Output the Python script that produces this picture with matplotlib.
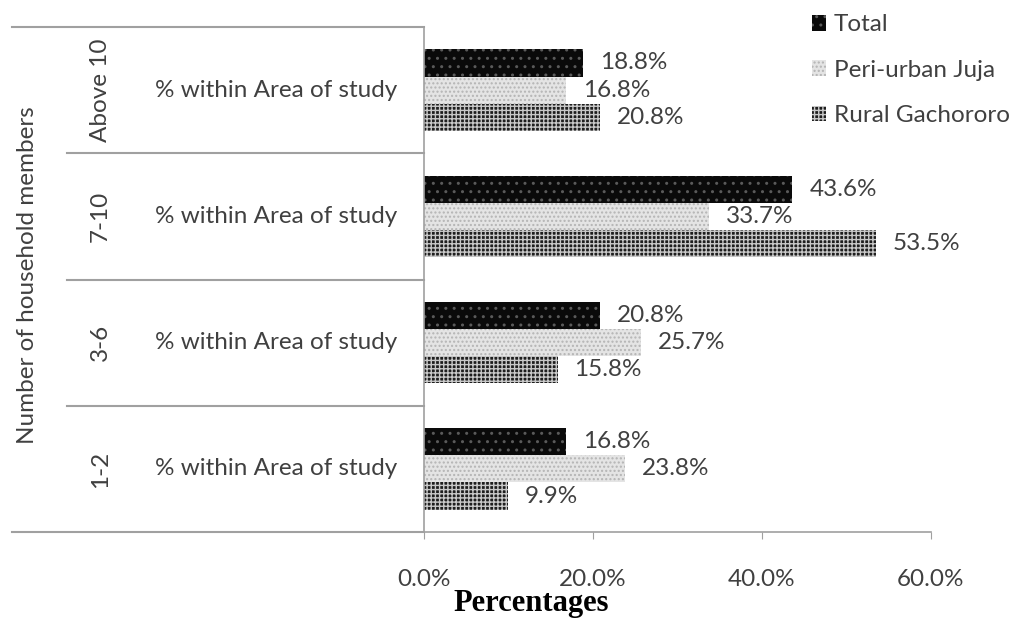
import matplotlib.pyplot as plt
import numpy as np

# household size groups, bottom to top
groups = ["1-2", "3-6", "7-10", "Above 10"]
total = [16.8, 20.8, 43.6, 18.8]
peri_urban = [23.8, 25.7, 33.7, 16.8]
rural = [9.9, 15.8, 53.5, 20.8]
series_names = ["Total", "Peri-urban Juja", "Rural Gachororo"]
xticks = [0, 20, 40, 60]

plt.rcParams['font.family'] = ['Lato', 'DejaVu Sans']
txt = '#404040'
grey = '#a0a0a0'
fs = 17.5

fig = plt.figure(figsize=(10.19, 6.23), dpi=100)
ax = fig.add_axes([424/1019, 1-532/623, 507/1019, 505/623])

y = np.arange(len(groups))
h = 0.215
styles = [
    dict(facecolor='#0a0a0a', edgecolor='#5a5a5a', hatch='..'),
    dict(facecolor='#e4e4e4', edgecolor='#b4b4b4', hatch='....'),
    dict(facecolor='#1e1e1e', edgecolor='#c8c8c8', hatch='++++'),
]
for k, (vals, st) in enumerate(zip([total, peri_urban, rural], styles)):
    ax.barh(y + h*(1-k), vals, height=h, linewidth=0, label=series_names[k], **st)
    for yi, v in zip(y + h*(1-k), vals):
        ax.text(v + 2.0, yi, f"{v:.1f}%", va='center', ha='left', fontsize=fs, color=txt)

ax.set_xlim(0, 60)
ax.set_ylim(-0.5, 3.5)
ax.set_xticks(xticks)
ax.set_xticklabels([f"{t:.1f}%" for t in xticks], fontsize=fs, color=txt)
ax.tick_params(axis='x', direction='out', length=5, color=grey, pad=22)
ax.set_yticks([])
for s in ['top', 'right']:
    ax.spines[s].set_visible(False)
for s in ['left', 'bottom']:
    ax.spines[s].set_color(grey)
    ax.spines[s].set_linewidth(1.2)

# category table to the left of the bars
tr = ax.get_yaxis_transform()
ax.plot([-0.813, 0], [3.5, 3.5], transform=tr, color=grey, lw=1.5, clip_on=False)
ax.plot([-0.813, 0], [-0.5, -0.5], transform=tr, color=grey, lw=1.5, clip_on=False)
for yb in [0.5, 1.5, 2.5]:
    ax.plot([-0.704, 0], [yb, yb], transform=tr, color=grey, lw=1.5, clip_on=False)
for yi, g in zip(y, groups):
    ax.text(-0.638, yi, g, transform=tr, rotation=90, ha='center', va='center',
            fontsize=fs, color=txt)
    ax.text(-0.291, yi, "% within Area of study", transform=tr, ha='center',
            va='center', fontsize=fs, color=txt)

fig.text(28/1019, 1-275/623, "Number of household members", rotation=90,
         ha='center', va='center', fontsize=fs, color=txt)
fig.text(531/1019, 1-604/623, "Percentages", ha='center', va='center',
         fontsize=22, fontweight='bold', family='Liberation Serif', color='black')

fig.legend(loc='upper left', bbox_to_anchor=(790/1019, 1.012), frameon=False,
           fontsize=fs, labelcolor=txt, handlelength=0.6, handleheight=0.6,
           handletextpad=0.3, labelspacing=1.0)

fig.savefig("out.png", dpi=100)
